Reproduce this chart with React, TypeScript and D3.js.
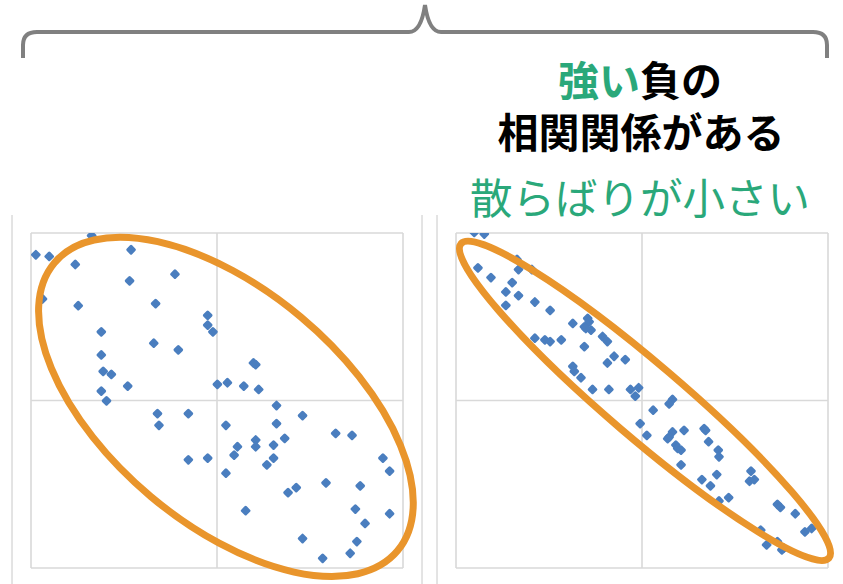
import React from "react";
import * as d3 from "d3";

// Left panel: wide scatter (x, y)
const leftX = [0.13,0.49,1.63,2.69,1.19,3.87,2.65,0.31,1.27,3.35,4.75,4.75,4.89,1.89,3.30,3.96,1.89,5.98,6.04,1.94,2.16,2.60,5.01,5.28,5.72,6.12,1.89,2.03,6.60,3.40,4.23,7.30,3.44,5.24,6.60,8.19,8.63,6.82,6.04,6.04,5.55,6.52,5.46,4.23,4.75,6.52,6.34,9.46,9.64,5.24,7.93,8.85,7.13,6.91,5.77,8.72,9.64,8.98,7.30,8.76,8.58,7.84];
const leftY = [9.35,9.30,9.92,9.50,9.06,8.77,8.57,8.03,7.83,7.89,7.54,7.25,7.05,7.05,6.71,6.51,6.36,6.12,6.07,5.87,5.78,5.43,5.48,5.53,5.43,5.33,5.28,4.99,4.85,4.61,4.61,4.55,4.26,4.26,4.31,4.02,3.96,3.87,3.82,3.62,3.62,3.67,3.37,3.23,3.28,3.28,3.08,3.28,2.89,2.83,2.54,2.45,2.40,2.25,1.71,1.76,1.62,1.33,0.88,0.79,0.44,0.29];

// Right panel: tight scatter (x, y)
const rightX = [0.49,0.76,1.64,0.59,1.68,2.04,0.94,1.51,1.34,1.68,1.34,2.12,2.53,3.14,3.54,3.58,3.45,3.63,3.49,2.12,2.39,2.53,2.83,3.94,4.07,3.45,4.25,4.55,4.07,3.14,3.18,3.36,3.67,4.11,4.69,4.91,4.82,5.82,5.73,5.30,4.95,5.13,5.82,6.13,5.73,5.69,5.91,5.96,6.05,6.67,6.71,6.79,7.05,7.07,6.05,7.01,6.61,6.84,7.93,7.89,8.02,7.33,7.07,8.64,8.72,9.12,8.19,9.38,9.56,8.64,8.35,8.81,8.76];
const rightY = [10.02,9.97,9.21,8.96,8.91,8.91,8.67,8.52,8.24,8.13,7.84,7.94,7.69,7.30,7.45,7.35,7.20,7.10,7.15,6.86,6.81,6.76,6.81,6.91,6.76,6.61,6.32,6.22,6.12,6.02,5.87,5.68,5.33,5.33,5.33,5.38,5.13,5.03,4.90,4.71,4.31,3.96,4.06,4.11,3.91,3.86,3.67,3.57,3.52,4.16,4.11,3.77,3.52,3.32,3.08,2.79,2.64,2.45,2.89,2.59,2.64,2.10,2.00,1.90,1.81,1.62,1.13,1.08,1.18,0.79,0.69,0.59,0.54];

const domain = [0, 10];
const gridTicks = [0, 5, 10];

// ellipse annotations: center in data units
const leftEllipse = { cx: 5.24, cy: 4.81 };
const rightEllipse = { cx: 5.08, cy: 4.99 };

const line1Green = "強い";
const line1Black = "負の";
const line2 = "相関関係がある";
const line3 = "散らばりが小さい";

const BLUE = "#4a7ebf";
const ORANGE = "#e9952c";
const GREEN = "#2aa87a";
const GRID = "#d9d9d9";

function Panel({ xs, ys, x0, x1, y0, y1, ell, rx, ry, angle, id }: any) {
  const sx = d3.scaleLinear().domain(domain).range([x0, x1]);
  const sy = d3.scaleLinear().domain(domain).range([y1, y0]);
  const sym = d3.symbol().type(d3.symbolSquare).size(22)() as string;
  const ecx = sx(ell.cx);
  const ecy = sy(ell.cy);
  return (
    <g>
      <defs>
        <clipPath id={id}>
          <rect x={x0} y={y0} width={x1 - x0} height={y1 - y0} />
        </clipPath>
      </defs>
      {gridTicks.map((t) => (
        <line key={"v" + t} x1={sx(t)} x2={sx(t)} y1={y0} y2={y1} stroke={GRID} strokeWidth={1.6} />
      ))}
      {gridTicks.map((t) => (
        <line key={"h" + t} x1={x0} x2={x1} y1={sy(t)} y2={sy(t)} stroke={GRID} strokeWidth={1.6} />
      ))}
      <g clipPath={`url(#${id})`}>
        {xs.map((x: number, i: number) => (
          <path
            key={i}
            d={sym}
            transform={`translate(${sx(x)},${sy(ys[i])}) rotate(45)`}
            fill={BLUE}
            stroke={BLUE}
            strokeWidth={3}
            strokeLinejoin="round"
          />
        ))}
      </g>
      <ellipse
        cx={0}
        cy={0}
        rx={rx}
        ry={ry}
        transform={`translate(${ecx},${ecy}) rotate(${angle})`}
        fill="none"
        stroke={ORANGE}
        strokeWidth={7}
      />
    </g>
  );
}

export default function App() {
  const font = "'Noto Sans CJK JP', 'Noto Sans', sans-serif";
  return (
    <div>
      <style>{`body{margin:0}`}</style>
      <svg width={843} height={584} style={{ display: "block", background: "#fff" }}>
        {/* bracket */}
        <path
          d="M23,58 L23,45 Q23,32 37,32 L409,32 Q421,32 425,5 Q429,32 441,32 L813,32 Q827,32 827,45 L827,58"
          fill="none"
          stroke="#808080"
          strokeWidth={4}
        />
        {/* frame edges */}
        <line x1={12} x2={12} y1={215} y2={584} stroke="#c8c8c8" strokeWidth={1} />
        <line x1={422} x2={422} y1={215} y2={584} stroke="#c8c8c8" strokeWidth={1} />
        <line x1={437} x2={437} y1={215} y2={584} stroke="#c8c8c8" strokeWidth={1} />

        <Panel xs={leftX} ys={leftY} x0={31} x1={403} y0={233} y1={568} ell={leftEllipse} rx={224} ry={117} angle={40} id="clipL" />
        <Panel xs={rightX} ys={rightY} x0={456} x1={828} y0={233} y1={568} ell={rightEllipse} rx={242} ry={37} angle={40.5} id="clipR" />

        <text x={640} y={96} textAnchor="middle" fontFamily={font} fontSize={41} fontWeight={700}>
          <tspan fill={GREEN}>{line1Green}</tspan>
          <tspan fill="#000">{line1Black}</tspan>
        </text>
        <text x={641} y={148} textAnchor="middle" fontFamily={font} fontSize={41} fontWeight={700} fill="#000">
          {line2}
        </text>
        <text x={640} y={214} textAnchor="middle" fontFamily={font} fontSize={42.5} fontWeight={400} fill={GREEN}>
          {line3}
        </text>
      </svg>
    </div>
  );
}
